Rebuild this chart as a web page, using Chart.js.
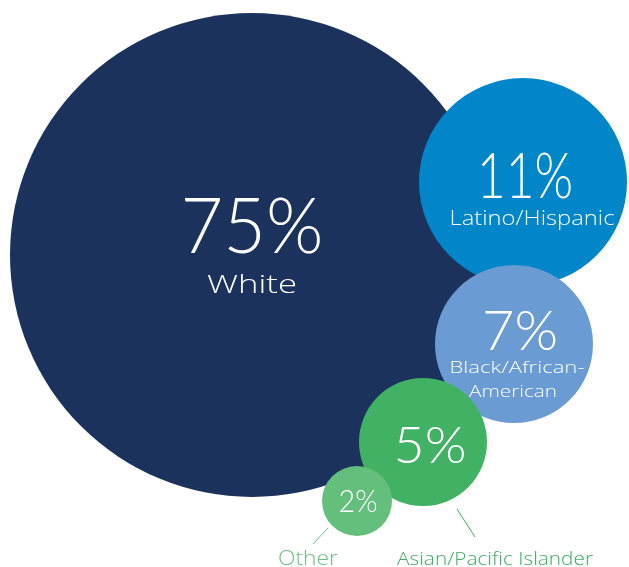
<!DOCTYPE html>
<html>
<head>
<meta charset="utf-8">
<script src="https://cdn.jsdelivr.net/npm/chart.js@4.4.1/dist/chart.umd.min.js"></script>
<style>
  html, body { margin: 0; padding: 0; background: #fff; }
  #wrap { width: 629px; height: 567px; }
</style>
</head>
<body>
<div id="wrap"><canvas id="bubbles" width="629" height="567"></canvas></div>
<script>
// data
var groups = ["White", "Latino/Hispanic", "Black/African-American", "Asian/Pacific Islander", "Other"];
var shares = [75, 11, 7, 5, 2];

// layout (pixels) - packing of the circles
var centerX = [252, 523, 514, 423, 357];
var centerY = [255, 182, 344, 442, 501];
var radius = [242, 104, 79, 64, 35];
var fills = ["#1b335c", "#0286ca", "#6b9bd3", "#41b264", "#63bf7b"];

var NUM_FONT = "Lato";
var LABEL_FONT = "'Open Sans'";

// text inside each bubble: [text, dx, dy(baseline), size, isNumber, width]
var texts = [
  [["75%", 0, -2, 76, 1, 143], ["White", 0, 38, 26, 0, 90]],
  [["11%", 2, 16, 64, 1, 96], ["Latino/Hispanic", 9, 43, 20, 0, 165]],
  [["7%", 6, 6, 56, 1, 76], ["Black/African-", 3, 29, 17, 0, 135], ["American", -1, 53, 17, 0, 88]],
  [["5%", 7, 21, 51, 1, 73]],
  [["2%", 1, 11, 31, 1, 39]]
];
var outside = [
  null, null, null,
  { text: "Asian/Pacific Islander", x: 495, y: 565, size: 19, width: 196, color: "#3dab63", line: [457, 509, 475, 537] },
  { text: "Other", x: 308, y: 565, size: 20, width: 60, color: "#6cc186", line: [328, 528, 313, 544] }
];

function drawText(ctx, txt, x, y, font, width) {
  ctx.font = font;
  var natural = ctx.measureText(txt).width;
  var sx = width / natural;
  ctx.save();
  ctx.translate(x, y);
  ctx.scale(sx, 1);
  ctx.fillText(txt, 0, 0);
  ctx.restore();
}

var labelPlugin = {
  id: "bubbleLabels",
  afterDatasetsDraw: function (chart) {
    var ctx = chart.ctx;
    var meta = chart.getDatasetMeta(0);
    ctx.save();
    ctx.textAlign = "center";
    ctx.textBaseline = "alphabetic";
    meta.data.forEach(function (el, i) {
      texts[i].forEach(function (t) {
        ctx.fillStyle = "#ffffff";
        drawText(ctx, t[0], el.x + t[1], el.y + t[2],
          "300 " + t[3] + "px " + (t[4] ? NUM_FONT : LABEL_FONT), t[5]);
      });
      var o = outside[i];
      if (o) {
        ctx.strokeStyle = o.color;
        ctx.lineWidth = 1;
        ctx.beginPath();
        ctx.moveTo(o.line[0], o.line[1]);
        ctx.lineTo(o.line[2], o.line[3]);
        ctx.stroke();
        ctx.fillStyle = o.color;
        drawText(ctx, o.text, o.x, o.y, "300 " + o.size + "px " + LABEL_FONT, o.width);
      }
    });
    ctx.restore();
  }
};

var points = groups.map(function (g, i) {
  return { x: centerX[i], y: centerY[i], r: radius[i], share: shares[i] };
});

new Chart(document.getElementById("bubbles"), {
  type: "bubble",
  data: {
    labels: groups,
    datasets: [{
      data: points,
      backgroundColor: fills,
      borderWidth: 0,
      hoverBorderWidth: 0,
      clip: false
    }]
  },
  options: {
    responsive: false,
    animation: false,
    layout: { padding: 0, autoPadding: false },
    plugins: {
      legend: { display: false },
      tooltip: { enabled: false }
    },
    scales: {
      x: { type: "linear", min: 0, max: 629, display: false },
      y: { type: "linear", min: 0, max: 567, reverse: true, display: false }
    }
  },
  plugins: [labelPlugin]
});
</script>
</body>
</html>
